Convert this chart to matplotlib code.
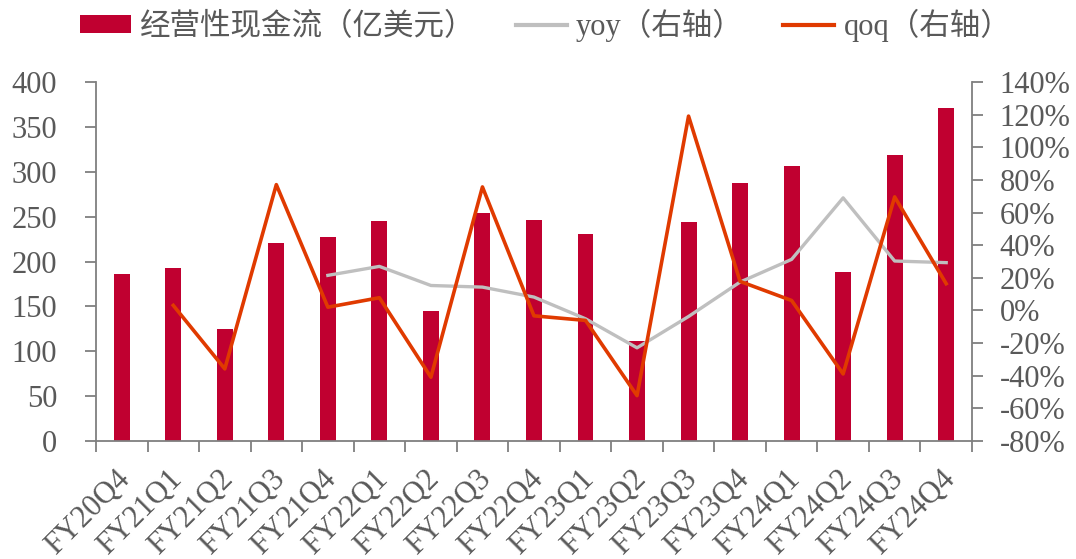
import matplotlib
matplotlib.use("Agg")
import matplotlib.pyplot as plt
import matplotlib.transforms as mtransforms
import numpy as np
from matplotlib.patches import Patch
from matplotlib.lines import Line2D
from matplotlib.ticker import FixedLocator, FuncFormatter

plt.rcParams['font.family'] = ['Liberation Serif', 'Noto Sans CJK SC', 'DejaVu Sans']

quarters = ["FY20Q4", "FY21Q1", "FY21Q2", "FY21Q3", "FY21Q4", "FY22Q1", "FY22Q2",
            "FY22Q3", "FY22Q4", "FY23Q1", "FY23Q2", "FY23Q3", "FY23Q4", "FY24Q1",
            "FY24Q2", "FY24Q3", "FY24Q4"]
cash_flow = [186, 193, 125, 221, 227, 245, 145, 254, 246, 231, 111, 244, 287, 306,
             188, 319, 371]
yoy = [np.nan, np.nan, np.nan, np.nan, 21.5, 27.0, 15.3, 14.3, 8.2, -5.1, -22.9,
       -3.7, 17.4, 31.3, 69.0, 30.3, 29.3]
qoq = [np.nan, 3.1, -35.8, 77.1, 2.0, 7.8, -40.9, 75.7, -3.3, -6.1, -52.2, 119.1,
       17.8, 6.1, -38.9, 69.6, 16.4]

BAR = "#C00030"
YOY = "#BFBFBF"
QOQ = "#E03A00"
TXT = "#595959"
AX = "#7F7F7F"
FS = 22

fig = plt.figure(figsize=(10.76, 5.59), dpi=100)
ax = fig.add_axes([0.0892, 0.2111, 0.8141, 0.6422])
ax2 = ax.twinx()

x = np.arange(len(quarters))
ax.bar(x, cash_flow, width=0.31, color=BAR, zorder=2)
ax2.plot(x, yoy, color=YOY, lw=2.4, zorder=3)
ax2.plot(x, qoq, color=QOQ, lw=2.6, zorder=4)

ax.set_xlim(-0.5, len(quarters) - 0.5)
ax.set_ylim(0, 400)
ax.set_yticks(np.arange(0, 401, 50))
ax2.set_ylim(-80, 140)
ax2.set_yticks(np.arange(-80, 141, 20))
ax2.yaxis.set_major_formatter(FuncFormatter(lambda v, p: f"{v:.0f}%"))

# category labels at centers, tick marks at category boundaries
ax.xaxis.set_major_locator(FixedLocator(x))
ax.set_xticklabels(quarters, rotation=45, ha='right', rotation_mode='anchor')
ax.xaxis.set_minor_locator(FixedLocator(np.arange(-0.5, len(quarters), 1.0)))
ax.tick_params(axis='x', which='major', length=0, pad=17, labelsize=FS,
               labelcolor=TXT)
ax.tick_params(axis='x', which='minor', length=8, width=1.3, color=AX)
shift = mtransforms.ScaledTranslation(-6 / 100, 0, fig.dpi_scale_trans)
for lbl in ax.get_xticklabels():
    lbl.set_transform(lbl.get_transform() + shift)

for a in (ax, ax2):
    for s in a.spines.values():
        s.set_visible(False)
    a.tick_params(axis='y', length=8, width=1.3, color=AX, labelsize=FS,
                  labelcolor=TXT)
ax.tick_params(axis='y', pad=20)
ax2.tick_params(axis='y', pad=12)

ax.spines['left'].set_visible(True)
ax.spines['bottom'].set_visible(True)
ax2.spines['right'].set_visible(True)
for s in (ax.spines['left'], ax.spines['bottom'], ax2.spines['right']):
    s.set_color(AX)
    s.set_linewidth(1.3)

handles = [
    Patch(facecolor=BAR, edgecolor='none', label="经营性现金流（亿美元）"),
    Line2D([], [], color=YOY, lw=3, label="yoy（右轴）"),
    Line2D([], [], color=QOQ, lw=3, label="qoq（右轴）"),
]
leg = fig.legend(handles=handles, loc='center left', bbox_to_anchor=(0.0745, 0.955),
                 ncol=3, frameon=False, fontsize=FS, handlelength=1.67,
                 handletextpad=0.3, columnspacing=1.3, handleheight=0.55,
                 borderpad=0, borderaxespad=0)
for t in leg.get_texts():
    t.set_color(TXT)

fig.savefig("out.png", dpi=100)
